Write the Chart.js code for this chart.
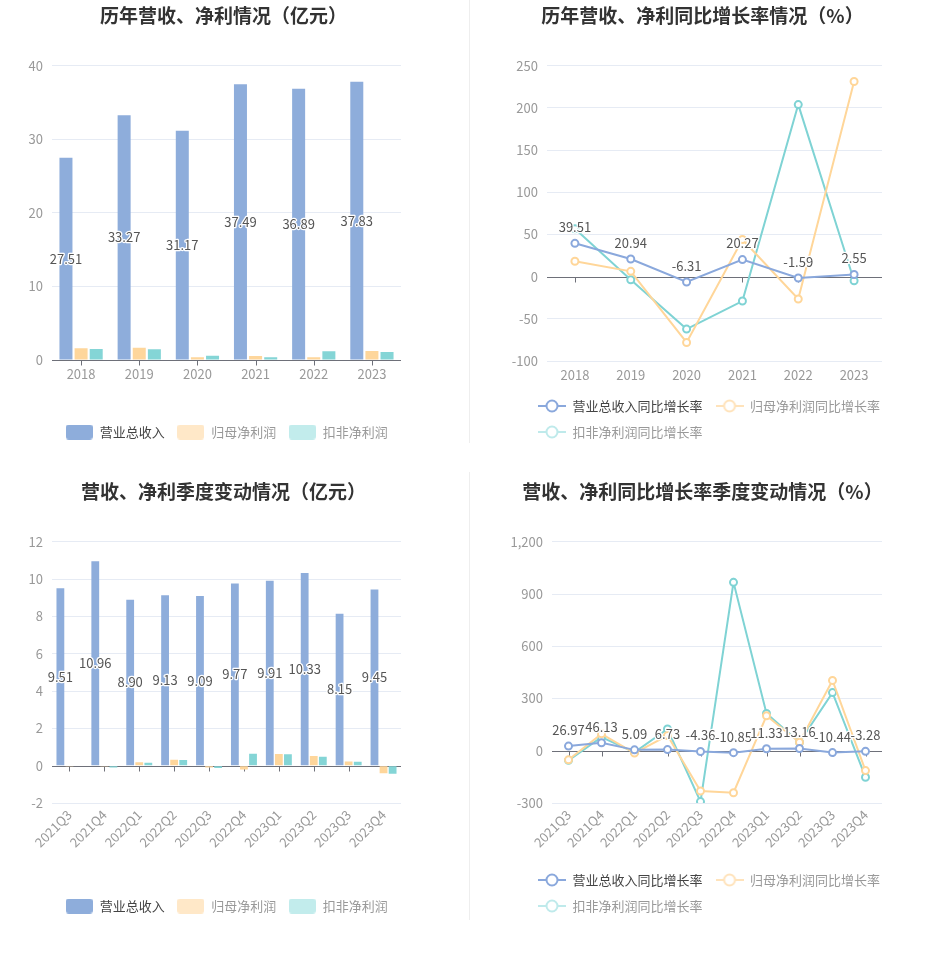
<!DOCTYPE html>
<html>
<head>
<meta charset="utf-8">
<script src="https://cdn.jsdelivr.net/npm/chart.js@4.4.0/dist/chart.umd.min.js"></script>
<style>
  body { margin: 0; background: #fff; }
  .box { position: absolute; }
  .sep { position: absolute; left: 469px; width: 1px; background: #eeeeee; }
</style>
</head>
<body>
<div class="sep" style="top:0;height:443px"></div>
<div class="sep" style="top:472px;height:448px"></div>
<canvas id="c1" class="box" width="447" height="460" style="left:0;top:0"></canvas>
<canvas id="c2" class="box" width="465" height="460" style="left:470px;top:0"></canvas>
<canvas id="c3" class="box" width="447" height="470" style="left:0;top:470px"></canvas>
<canvas id="c4" class="box" width="465" height="470" style="left:470px;top:470px"></canvas>
<script>
// ===== data =====
const years = ["2018", "2019", "2020", "2021", "2022", "2023"];
const yearRevenue = [27.51, 33.27, 31.17, 37.49, 36.89, 37.83];
const yearNetProfit = [1.6, 1.67, 0.36, 0.54, 0.36, 1.22];
const yearDeductedProfit = [1.5, 1.45, 0.59, 0.36, 1.18, 1.09];

const yearRevenueGrowth = [39.51, 20.94, -6.31, 20.27, -1.59, 2.55];
const yearNetProfitGrowth = [18.2, 6.3, -78, 44, -26.5, 231.4];
const yearDeductedGrowth = [56.7, -3.6, -62.2, -28.9, 204, -4.8];

const quarters = ["2021Q3", "2021Q4", "2022Q1", "2022Q2", "2022Q3", "2022Q4", "2023Q1", "2023Q2", "2023Q3", "2023Q4"];
const qRevenue = [9.51, 10.96, 8.90, 9.13, 9.09, 9.77, 9.91, 10.33, 8.15, 9.45];
const qNetProfit = [-0.05, -0.02, 0.18, 0.32, -0.1, -0.2, 0.62, 0.52, 0.23, -0.41];
const qDeductedProfit = [-0.03, -0.1, 0.16, 0.30, -0.12, 0.64, 0.61, 0.48, 0.21, -0.43];

const qRevenueGrowth = [26.97, 46.13, 5.09, 6.73, -4.36, -10.85, 11.33, 13.16, -10.44, -3.28];
const qNetProfitGrowth = [-52, 97, -13, 87, -231, -241, 201, 49, 404, -114];
const qDeductedGrowth = [-55, 78, -9.5, 125, -292, 967, 214, 49, 334, -152];

const barNames = ["营业总收入", "归母净利润", "扣非净利润"];
const lineNames = ["营业总收入同比增长率", "归母净利润同比增长率", "扣非净利润同比增长率"];

// ===== style =====
const FONT = '"Noto Sans CJK SC", "Noto Sans", sans-serif';
const BLUE = "#8eaddb", ORANGE = "#fed69b", TEAL = "#84d5d6";
const LEG_COLORS = ["#8eaddb", "#ffe8c8", "#c2ecec"];
const LINE_COLORS = ["#8aa8dc", "#ffd699", "#7fd3d4"];
const LEG_LINE_COLORS = ["#8aa8dc", "#ffe3bb", "#bfeaeb"];
const TEXT_COLORS = ["#444", "#999", "#999"];

Chart.defaults.font.family = FONT;
Chart.defaults.font.size = 13;
Chart.defaults.color = "#999";

function barIcon(color) {
  const c = document.createElement("canvas");
  c.width = 27; c.height = 15;
  const g = c.getContext("2d");
  g.fillStyle = color;
  g.beginPath();
  g.roundRect(0, 0, 27, 15, 3);
  g.fill();
  return c;
}

function lineIcon(color) {
  const c = document.createElement("canvas");
  c.width = 28; c.height = 16;
  const g = c.getContext("2d");
  g.strokeStyle = color;
  g.lineWidth = 2;
  g.beginPath();
  g.moveTo(0, 8); g.lineTo(28, 8);
  g.stroke();
  g.fillStyle = "#fff";
  g.beginPath();
  g.arc(14, 8, 5.5, 0, Math.PI * 2);
  g.fill();
  g.stroke();
  return c;
}

/* ===== PLUGINS ===== */
const zeroAxis = {
  id: "zeroAxis",
  beforeDatasetsDraw(chart) {
    const ctx = chart.ctx, area = chart.chartArea;
    const y0 = Math.round(chart.scales.y.getPixelForValue(0)) + 0.5;
    const xs = chart.scales.x;
    ctx.save();
    ctx.strokeStyle = "#6e7079";
    ctx.lineWidth = 1;
    ctx.beginPath();
    ctx.moveTo(area.left, y0);
    ctx.lineTo(area.right, y0);
    chart.data.labels.forEach((l, i) => {
      const x = Math.round(xs.getPixelForValue(i)) + 0.5;
      ctx.moveTo(x, y0);
      ctx.lineTo(x, y0 + 5);
    });
    ctx.stroke();
    ctx.restore();
  }
};

const valueLabels = {
  id: "valueLabels",
  afterDatasetsDraw(chart, args, opts) {
    const meta = chart.getDatasetMeta(0);
    const data = chart.data.datasets[0].data;
    const ctx = chart.ctx;
    ctx.save();
    ctx.font = "13px " + FONT;
    ctx.textAlign = "center";
    ctx.textBaseline = "middle";
    ctx.lineJoin = "round";
    ctx.lineWidth = 2.5;
    ctx.strokeStyle = "#fff";
    ctx.fillStyle = "#555";
    meta.data.forEach((el, i) => {
      const text = data[i].toFixed(2);
      const y = opts.mode === "bar" ? (el.y + el.base) / 2 : el.y - 16;
      ctx.strokeText(text, el.x, y);
      ctx.fillText(text, el.x, y);
    });
    ctx.restore();
  }
};

const legendShift = {
  id: "legendShift",
  afterLayout(chart, args, opts) {
    const lg = chart.legend;
    if (!lg || !opts.dx) return;
    lg.left += opts.dx;
    lg.right += opts.dx;
  }
};

/* ===== CHART BUILDERS ===== */
function title(text, top, bottom) {
  return {
    display: true, text: text, color: "#333",
    font: { size: 19, weight: "bold" },
    padding: { top: top, bottom: bottom }
  };
}

function legend(icons, names, dx, align, padding) {
  return {
    position: "bottom",
    align: align,
    labels: {
      usePointStyle: true,
      pointStyleWidth: 28,
      padding: padding,
      font: { size: 13 },
      generateLabels: () => names.map((n, i) => ({
        text: n, pointStyle: icons[i], fontColor: TEXT_COLORS[i],
        fillStyle: "#fff", strokeStyle: "#fff", lineWidth: 0,
        hidden: false, datasetIndex: i
      }))
    }
  };
}

function scales(opts) {
  return {
    x: {
      grid: { display: false, drawTicks: false },
      border: { display: false },
      ticks: {
        padding: opts.tickPad, color: "#999", font: { size: 13 },
        maxRotation: opts.rot, minRotation: opts.rot
      },
      afterFit: s => { s.height = opts.xH; }
    },
    y: {
      min: opts.min, max: opts.max,
      border: { display: false },
      grid: { color: c => c.tick.value === 0 ? "rgba(0,0,0,0)" : "#e6ebf4", drawTicks: false },
      ticks: { stepSize: opts.step, padding: 9, color: "#999", font: { size: 13 } },
      afterFit: s => { s.width = opts.yW; }
    },
    yR: {
      position: "right",
      display: true,
      grid: { display: false },
      border: { display: false },
      ticks: { display: false },
      afterFit: s => { s.width = opts.rW; }
    }
  };
}

function barChart(id, labels, rev, np, dp, cfg) {
  const bar = { barPercentage: 0.86, categoryPercentage: 0.78, borderWidth: 0 };
  new Chart(document.getElementById(id), {
    type: "bar",
    data: {
      labels: labels,
      datasets: [
        Object.assign({ label: barNames[0], data: rev, backgroundColor: BLUE }, bar),
        Object.assign({ label: barNames[1], data: np, backgroundColor: ORANGE }, bar),
        Object.assign({ label: barNames[2], data: dp, backgroundColor: TEAL }, bar)
      ]
    },
    options: {
      responsive: false,
      animation: false,
      layout: { padding: { bottom: cfg.padB } },
      plugins: {
        title: title(cfg.title, cfg.tTop, cfg.tBottom),
        legend: legend(LEG_COLORS.map(barIcon), barNames, cfg.dx, "center", 12),
        tooltip: { enabled: false },
        valueLabels: { mode: "bar" },
        legendShift: { dx: cfg.dx }
      },
      scales: scales(cfg)
    },
    plugins: [zeroAxis, valueLabels, legendShift]
  });
}

function lineChart(id, labels, a, b, c, cfg) {
  const ds = (name, data, color) => ({
    label: name, data: data, borderColor: color, backgroundColor: "#fff",
    borderWidth: 2, pointRadius: 3.5, pointBorderWidth: 2,
    pointBackgroundColor: "#fff", pointBorderColor: color, tension: 0
  });
  const sc = scales(cfg);
  sc.x.offset = true;
  new Chart(document.getElementById(id), {
    type: "line",
    data: {
      labels: labels,
      datasets: [
        ds(lineNames[0], a, LINE_COLORS[0]),
        ds(lineNames[1], b, LINE_COLORS[1]),
        ds(lineNames[2], c, LINE_COLORS[2])
      ]
    },
    options: {
      responsive: false,
      animation: false,
      layout: { padding: { bottom: cfg.padB } },
      plugins: {
        title: title(cfg.title, cfg.tTop, cfg.tBottom),
        legend: legend(LEG_LINE_COLORS.map(lineIcon), lineNames, cfg.dx, "start", 13),
        tooltip: { enabled: false },
        valueLabels: { mode: "line" },
        legendShift: { dx: cfg.dx }
      },
      scales: sc
    },
    plugins: [zeroAxis, valueLabels, legendShift]
  });
}

barChart("c1", years, yearRevenue, yearNetProfit, yearDeductedProfit, {
  title: "历年营收、净利情况（亿元）", tTop: 4, tBottom: 39,
  min: 0, max: 40, step: 10, yW: 52, rW: 46, xH: 53.5, padB: 11.5, rot: 0, dx: 3, tickPad: 6
});

lineChart("c2", years, yearRevenueGrowth, yearNetProfitGrowth, yearDeductedGrowth, {
  title: "历年营收、净利同比增长率情况（%）", tTop: 4, tBottom: 39,
  min: -100, max: 250, step: 50, yW: 77, rW: 53, xH: 25.5, padB: 11.5, rot: 0, dx: 55, tickPad: 6
});

barChart("c3", quarters, qRevenue, qNetProfit, qDeductedProfit, {
  title: "营收、净利季度变动情况（亿元）", tTop: 10, tBottom: 39,
  min: -2, max: 12, step: 2, yW: 52, rW: 46, xH: 84.5, padB: 17.5, rot: 45, dx: 3, tickPad: 4
});

lineChart("c4", quarters, qRevenueGrowth, qNetProfitGrowth, qDeductedGrowth, {
  title: "营收、净利同比增长率季度变动情况（%）", tTop: 10, tBottom: 39,
  min: -300, max: 1200, step: 300, yW: 82, rW: 53, xH: 57.5, padB: 17.5, rot: 45, dx: 55, tickPad: 4
});
</script>
</body>
</html>
